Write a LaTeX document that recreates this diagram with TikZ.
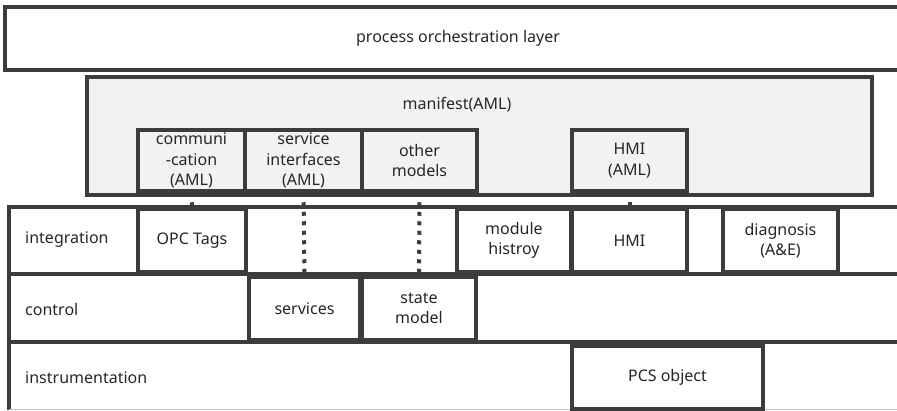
\documentclass[tikz,border=0pt]{standalone}
\usepackage{fontspec}
\setmainfont{Noto Sans}
\definecolor{bd}{HTML}{3C3C3C}
\definecolor{mfill}{HTML}{F2F2F2}
\definecolor{txt}{HTML}{262626}
\begin{document}
\begin{tikzpicture}[x=1pt,y=-1pt,
  every node/.style={font=\fontsize{16}{20.5}\selectfont, text=txt, inner sep=0pt, align=center},
  box/.style={draw=bd, line width=3.5pt, fill=white, rectangle},
  mbox/.style={draw=bd, line width=3.5pt, fill=mfill, rectangle},
  link/.style={draw=bd, line width=4pt, dash pattern=on 4pt off 5.5pt},
  rowline/.style={draw=bd, line width=3.5pt},
  lbl/.style={anchor=west}]
\useasboundingbox (0,0) rectangle (897,410);
% top layer
\node[box, minimum width=906pt, minimum height=63pt] (orch) at (458,38.5) {process orchestration layer};
% manifest
\node[mbox, minimum width=785pt, minimum height=118pt] (man) at (479.5,136) {};
\node (mantext) at (457,105) {manifest(AML)};
\node[mbox, minimum width=107pt, minimum height=61pt] (comm) at (191.5,160.5) {communi\\-cation\\(AML)};
\node[mbox, minimum width=117pt, minimum height=61pt] (svi) at (303.5,160.5) {service\\interfaces\\(AML)};
\node[mbox, minimum width=115pt, minimum height=61pt] (oth) at (419.5,160.5) {other\\models};
\node[mbox, minimum width=115pt, minimum height=61pt] (hmia) at (629.5,160.5) {HMI\\(AML)};
% rows
\draw[rowline] (915,207) -- (9,207) -- (9,410);
\draw[rowline] (9,274) -- (915,274);
\draw[rowline] (9,342) -- (915,342);
\draw[draw=gray!45, line width=1pt] (9,409) -- (915,409);
\node[lbl] (lint) at (25,240) {integration};
\node[lbl] (lctl) at (25,309) {control};
\node[lbl] (lins) at (25,378) {instrumentation};
% integration boxes
\node[box, minimum width=108pt, minimum height=63pt] (opc) at (192,240.5) {OPC Tags};
\node[box, minimum width=114pt, minimum height=63pt] (mh) at (514,240.5) {module\\histroy};
\node[box, minimum width=115pt, minimum height=63pt] (hmi) at (629.5,240.5) {HMI};
\node[box, minimum width=115pt, minimum height=63pt] (diag) at (780.5,240.5) {diagnosis\\(A\&E)};
% control boxes
\node[box, minimum width=111pt, minimum height=63pt] (srv) at (304.5,308.5) {services};
\node[box, minimum width=114pt, minimum height=63pt] (stm) at (419,308.5) {state\\model};
% instrumentation
\node[box, minimum width=191pt, minimum height=63pt] (pcs) at (667.5,377.5) {PCS object};
% links
\draw[link] (comm.south) -- (opc.north);
\draw[link] (svi.south) -- (srv.north);
\draw[link] (oth.south) -- (stm.north);
\draw[link] (hmia.south) -- (hmi.north);
\end{tikzpicture}
\end{document}
